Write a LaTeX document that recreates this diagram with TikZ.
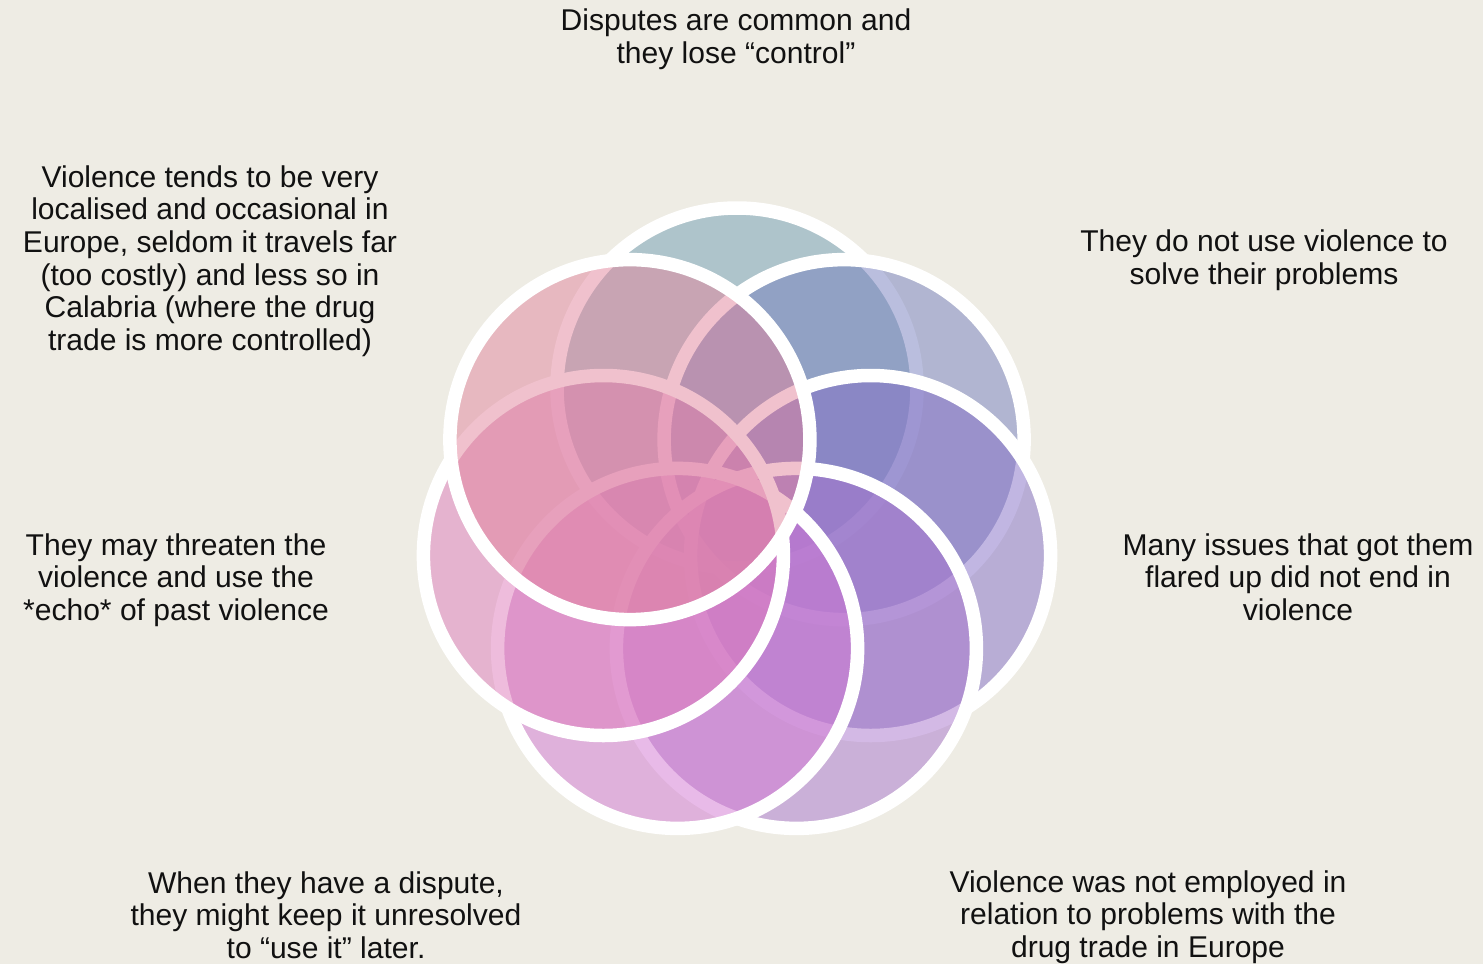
\documentclass[tikz,border=0pt]{standalone}
\usepackage{fontspec}
\setmainfont{Liberation Sans}
\definecolor{bg}{RGB}{238,236,228}
\definecolor{txt}{RGB}{17,17,17}
\definecolor{cA}{RGB}{112,157,179}
\definecolor{cB}{RGB}{118,127,191}
\definecolor{cC}{RGB}{132,111,199}
\definecolor{cD}{RGB}{168,117,205}
\definecolor{cE}{RGB}{210,119,211}
\definecolor{cF}{RGB}{222,123,187}
\definecolor{cG}{RGB}{226,133,157}
\tikzset{
  petal/.style={fill=#1, fill opacity=0.5, draw=white, draw opacity=1, line width=13.5*0.02cm},
  lbl/.style={align=center, inner sep=0pt, text=txt, font=\fontsize{17.1pt}{18.55pt}\selectfont}
}
\begin{document}
\begin{tikzpicture}[x=0.02cm, y=-0.02cm]
\fill[bg] (0,0) rectangle (1483,964);
\useasboundingbox (0,0) rectangle (1483,964);
% circles, drawn from the top clockwise, top-left last
\coordinate (pA) at (737,388);
\coordinate (pB) at (844.1,439.6);
\coordinate (pC) at (870.6,555.5);
\coordinate (pD) at (796.4,648.4);
\coordinate (pE) at (677.6,648.4);
\coordinate (pF) at (603.4,555.5);
\coordinate (pG) at (629.9,439.6);
\path[petal=cA] (pA) circle[radius=180*0.02cm];
\path[petal=cB] (pB) circle[radius=180*0.02cm];
\path[petal=cC] (pC) circle[radius=180*0.02cm];
\path[petal=cD] (pD) circle[radius=180*0.02cm];
\path[petal=cE] (pE) circle[radius=180*0.02cm];
\path[petal=cF] (pF) circle[radius=180*0.02cm];
\path[petal=cG] (pG) circle[radius=180*0.02cm];
% labels
\node[lbl] (tTop) at (736,39) {Disputes are common and\\they lose “control”};
\node[lbl] (tTL) at (210,261) {Violence tends to be very\\localised and occasional in\\Europe, seldom it travels far\\(too costly) and less so in\\Calabria (where the drug\\trade is more controlled)};
\node[lbl] (tTR) at (1264,260) {They do not use violence to\\solve their problems};
\node[lbl] (tR) at (1298,577) {Many issues that got them\\flared up did not end in\\violence};
\node[lbl] (tL) at (176,580) {They may threaten the\\violence and use the\\*echo* of past violence};
\node[lbl] (tBL) at (326,915) {When they have a dispute,\\they might keep it unresolved\\to “use it” later.};
\node[lbl] (tBR) at (1148,917) {Violence was not employed in\\relation to problems with the\\drug trade in Europe};
\end{tikzpicture}
\end{document}
